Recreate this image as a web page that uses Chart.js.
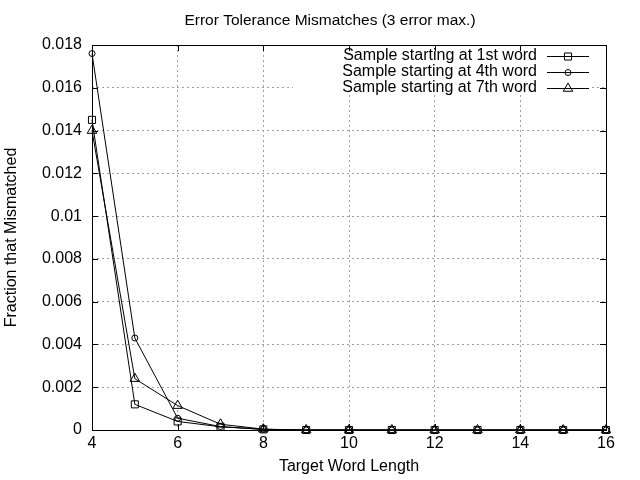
<!DOCTYPE html>
<html>
<head>
<meta charset="utf-8">
<script src="https://cdn.jsdelivr.net/npm/chart.js@4/dist/chart.umd.min.js"></script>
<style>
html,body{margin:0;padding:0;background:#fff;}
#wrap{width:640px;height:480px;}
</style>
</head>
<body>
<div id="wrap"><canvas id="c" width="640" height="480"></canvas></div>
<script>
const chartTitle = 'Error Tolerance Mismatches (3 error max.)';
const xAxisTitle = 'Target Word Length';
const yAxisTitle = 'Fraction that Mismatched';
const wordLengths = [4, 5, 6, 7, 8, 9, 10, 11, 12, 13, 14, 15, 16];
const seriesLabels = ['Sample starting at 1st word', 'Sample starting at 4th word', 'Sample starting at 7th word'];
const start1st = [0.0145, 0.0012, 0.0004, 0.00015, 0.00003, 0, 0, 0, 0, 0, 0, 0, 0];
const start4th = [0.0176, 0.0043, 0.00055, 0.00016, 0.00003, 0, 0, 0, 0, 0, 0, 0, 0];
const start7th = [0.0140, 0.0024, 0.00114, 0.00027, 0.00004, 0, 0, 0, 0, 0, 0, 0, 0];
const xTicks = [4, 6, 8, 10, 12, 14, 16];
const yTicks = [0, 0.002, 0.004, 0.006, 0.008, 0.01, 0.012, 0.014, 0.016, 0.018];

const FONT = '"Liberation Sans", Arial, sans-serif';
const toPts = arr => arr.map((v, i) => ({x: wordLengths[i], y: v}));
const styles = [
  {pointStyle: 'rect', radius: 5},
  {pointStyle: 'circle', radius: 3},
  {pointStyle: 'triangle', radius: 5.5}
];
const seriesData = [start1st, start4th, start7th];

const frame = {
  id: 'frame',
  beforeDatasetsDraw(chart) {
    const {ctx, chartArea: a} = chart;
    ctx.save();
    ctx.fillStyle = '#fff';
    ctx.fillRect(293, a.top + 1, 297, 47);
    ctx.restore();
  },
  afterDatasetsDraw(chart) {
    const {ctx, chartArea: a, scales} = chart;
    ctx.save();
    ctx.strokeStyle = '#000';
    ctx.lineWidth = 1;
    ctx.beginPath();
    xTicks.forEach(t => {
      const px = Math.round(scales.x.getPixelForValue(t)) + 0.5;
      ctx.moveTo(px, a.bottom); ctx.lineTo(px, a.bottom - 6);
      ctx.moveTo(px, a.top); ctx.lineTo(px, a.top + 6);
    });
    yTicks.forEach(t => {
      const py = Math.round(scales.y.getPixelForValue(t)) + 0.5;
      ctx.moveTo(a.left, py); ctx.lineTo(a.left + 6, py);
      ctx.moveTo(a.right, py); ctx.lineTo(a.right - 6, py);
    });
    ctx.stroke();
    ctx.strokeRect(Math.round(a.left) + 0.5, Math.round(a.top) + 0.5, Math.round(a.right - a.left), Math.round(a.bottom - a.top));
    ctx.fillStyle = '#000';
    ctx.font = '15.5px ' + FONT;
    ctx.textAlign = 'center';
    ctx.textBaseline = 'middle';
    ctx.fillText(chartTitle, 330, 21);
    ctx.font = '16px ' + FONT;
    ctx.textAlign = 'right';
    chart.data.datasets.forEach((ds, i) => {
      const y = 56 + i * 16;
      ctx.fillStyle = '#000';
      ctx.fillText(ds.label, 537, y);
      ctx.beginPath();
      ctx.moveTo(547, y + 0.5); ctx.lineTo(589, y + 0.5);
      ctx.stroke();
      ctx.fillStyle = 'rgba(0,0,0,0)';
      Chart.helpers.drawPoint(ctx, {pointStyle: ds.pointStyle, radius: ds.pointRadius, rotation: 0, borderWidth: 1}, 568, y + 0.5);
    });
    ctx.restore();
  }
};

new Chart(document.getElementById('c'), {
  type: 'line',
  data: {
    datasets: seriesData.map((d, i) => ({
      label: seriesLabels[i],
      data: toPts(d),
      borderColor: '#000',
      borderWidth: 1,
      backgroundColor: 'transparent',
      pointStyle: styles[i].pointStyle,
      pointRadius: styles[i].radius,
      pointBorderColor: '#000',
      pointBackgroundColor: 'transparent',
      pointBorderWidth: 1,
      tension: 0,
      clip: false
    }))
  },
  options: {
    responsive: false,
    animation: false,
    devicePixelRatio: 1,
    layout: {padding: {left: 0, right: 34, top: 45, bottom: 0}},
    plugins: {legend: {display: false}, title: {display: false}, tooltip: {enabled: false}},
    scales: {
      x: {
        type: 'linear', min: 4, max: 16,
        afterBuildTicks: s => { s.ticks = xTicks.map(v => ({value: v})); },
        afterFit: s => { s.height = 50; },
        grid: {color: '#a0a0a0', lineWidth: 1, drawTicks: false, tickLength: 0},
        border: {display: false, dash: [2, 3]},
        ticks: {color: '#000', font: {family: FONT, size: 16}, padding: 4, maxRotation: 0},
        title: {display: true, text: xAxisTitle, color: '#000', font: {family: FONT, size: 16}, padding: {top: 0, bottom: 4}}
      },
      y: {
        type: 'linear', min: 0, max: 0.018,
        afterBuildTicks: s => { s.ticks = yTicks.map(v => ({value: v})); },
        afterFit: s => { s.width = 92; },
        grid: {color: '#a0a0a0', lineWidth: 1, drawTicks: false, tickLength: 0},
        border: {display: false, dash: [2, 3]},
        ticks: {color: '#000', font: {family: FONT, size: 16}, padding: 10,
          callback: v => String(Number(v.toFixed(3)))},
        title: {display: true, text: yAxisTitle, color: '#000', font: {family: FONT, size: 16}, padding: {top: 2, bottom: 0}}
      }
    }
  },
  plugins: [frame]
});
</script>
</body>
</html>
